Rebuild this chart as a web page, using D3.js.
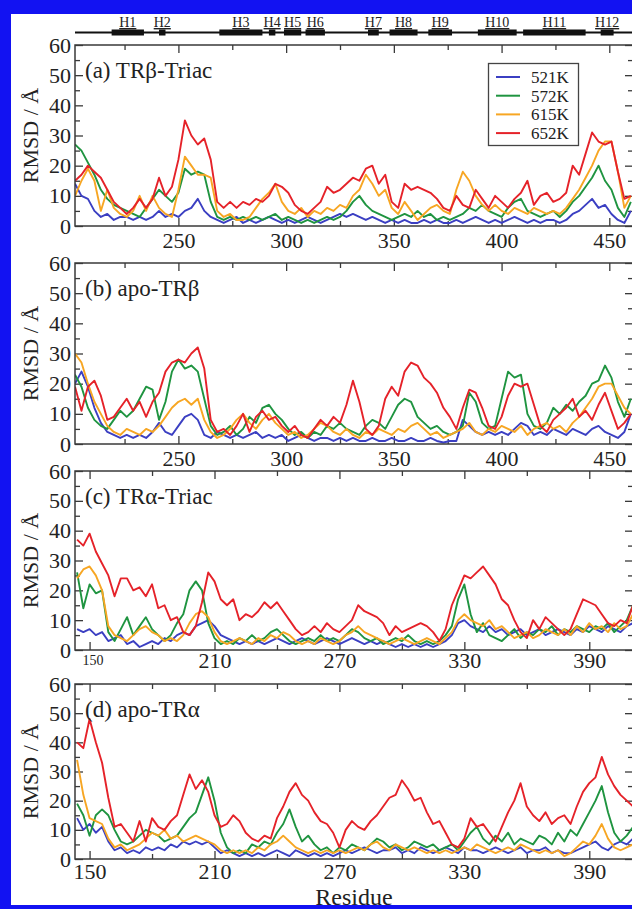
<!DOCTYPE html>
<html>
<head>
<meta charset="utf-8">
<script src="https://cdn.jsdelivr.net/npm/d3@7"></script>
<style>
    body { margin: 0; background: #fff; }
    svg { display: block; font-family: "Liberation Serif", "DejaVu Serif", serif; }
</style>
</head>
<body>
<svg id="chart" width="632" height="909"></svg>
<script>
/** data */
var temps = ['521K', '572K', '615K', '652K'];
var tempColors = ['#3b3fc2', '#1f9440', '#f7a623', '#e52229'];

var resTRb = d3.range(202, 461, 3);
var resTRa = d3.range(144, 412, 3);

var blueA = [14,10,9,5,3,4,2,3,3,2, 3,2,3,5,3,4,3,5,6,9, 5,3,2,1,2,3,1,2,1,2, 3,2,1,2,1,2,3,2,1,2,
    3,4,3,4,3,2,3,2,1,2, 1,2,1,1,2,1,2,1,1,2, 1,2,3,2,1,2,1,2,3,2, 1,2,1,2,2,1,2,4,5,7, 9,6,7,4,2,1,5];
var greenA = [27,25,21,17,12,9,7,6,5,4, 3,6,9,12,10,8,11,19,17,18, 17,8,3,2,3,2,3,2,3,2, 3,4,2,3,2,1,2,1,2,3,
    2,3,5,8,10,7,5,4,3,2, 3,4,3,5,3,4,2,3,2,3, 4,6,5,7,5,4,3,6,8,9, 5,4,3,4,5,3,5,8,10,13, 16,20,15,12,6,3,8];
var orangeA = [10,15,19,15,5,12,6,4,3,5, 10,5,10,6,4,3,12,23,20,17, 17,16,5,3,4,2,2,3,6,9, 11,14,8,5,4,6,3,5,4,6,
    5,7,6,10,12,17,14,10,12,6, 4,8,5,2,4,6,7,5,4,12, 18,15,10,7,5,7,5,4,6,5, 4,6,5,4,5,4,6,9,12,16, 20,25,28,28,18,6,10];
var redA = [15,17,20,18,16,12,8,6,4,6, 9,6,9,16,10,13,22,35,30,27, 29,22,8,6,8,6,8,7,9,8, 10,14,13,11,7,5,4,6,8,13,
    11,12,14,16,15,19,20,14,17,8, 6,14,12,13,12,11,9,6,5,10, 7,6,12,9,6,10,8,6,9,11, 15,7,10,11,8,9,11,20,17,24, 31,28,27,28,18,9,10];

var blueB = [20,24,19,12,7,4,3,2,3,2, 3,2,4,7,4,3,6,9,10,8, 3,2,4,3,2,3,2,3,4,2, 3,2,3,1,2,3,2,1,2,2,
    1,2,1,2,1,1,2,1,1,2, 1,1,2,1,1,2,1,0.5,1,1, 8,6,4,3,4,3,4,3,5,7, 6,3,4,3,5,4,3,5,4,3, 5,6,4,3,2,4,10];
var greenB = [23,19,12,8,6,5,8,11,9,11, 15,19,18,8,14,24,28,25,26,24, 15,6,3,4,6,3,5,9,7,12, 13,10,8,5,3,4,2,4,3,6,
    5,7,5,4,3,6,8,7,5,9, 13,15,14,9,7,5,6,4,3,4, 6,17,14,7,5,6,15,24,22,23, 10,6,5,7,12,10,13,11,14,16, 20,21,26,22,14,9,15];
var orangeB = [30,27,20,14,10,6,4,3,5,4, 3,5,4,6,9,12,14,15,13,15, 8,4,2,3,5,8,10,7,5,8, 10,7,5,3,4,2,3,5,7,6,
    4,3,5,3,2,4,3,5,4,3, 5,4,6,7,5,3,4,2,3,4, 5,7,4,3,5,4,6,5,4,6, 3,5,6,7,5,6,4,7,9,12, 15,19,20,20,16,12,10];
var redB = [19,11,19,21,16,8,9,12,15,11, 14,9,14,17,24,27,28,27,30,32, 25,8,4,5,3,6,10,4,9,11, 8,9,6,4,6,3,2,5,8,6,
    9,7,13,21,14,5,3,6,15,19, 16,24,27,26,22,20,17,12,9,5, 12,18,17,12,6,5,9,16,20,19, 20,13,6,4,8,10,12,15,9,11, 8,13,17,11,5,7,10];

var blueC = [7,6,7,5,6,3,4,5,2,3, 1,2,3,2,4,3,5,6,5,8, 9,10,8,5,4,3,2,3,2,3, 2,3,4,3,2,3,4,3,2,3,
    4,3,2,3,4,3,2,3,2,3, 2,1,2,1,2,1,2,1,2,3, 5,9,10,8,7,6,8,6,7,5, 6,7,5,6,7,5,6,7,6,5, 7,6,8,7,6,8,7,6,8,9];
var greenC = [26,14,22,19,20,6,3,7,11,5, 8,11,7,5,3,5,9,12,20,23, 20,9,4,2,3,2,4,3,5,3, 4,6,7,5,3,2,3,4,3,5,
    3,4,3,5,7,6,4,3,4,2, 3,4,3,5,3,2,3,2,3,5, 8,17,22,12,6,9,5,4,3,5, 7,4,6,5,7,6,8,5,7,6, 8,7,6,8,7,9,6,8,10,15];
var orangeC = [24,27,28,25,20,8,5,4,3,5, 7,8,6,5,3,4,3,5,9,12, 13,11,6,3,2,3,4,3,2,4, 3,5,4,6,5,3,2,3,2,4,
    3,2,3,5,6,8,6,5,4,3, 2,3,4,3,2,3,4,3,2,4, 6,10,12,10,9,8,10,7,8,6, 4,5,6,4,5,7,6,5,7,5, 8,6,9,7,8,6,9,7,8,12];
var redC = [37,35,39,33,29,25,18,24,24,20, 21,18,22,14,15,10,11,6,5,8, 16,26,23,17,15,17,10,12,11,13, 16,14,16,13,10,7,5,6,8,6,
    9,7,6,8,10,15,13,12,11,9, 5,8,6,7,8,9,8,6,3,7, 15,20,25,24,26,28,25,22,17,15, 10,6,4,10,7,11,9,7,5,7, 12,17,16,15,12,9,8,10,9,15];

var blueD = [14,10,12,9,11,6,3,4,2,3, 2,4,3,4,3,5,4,6,5,6, 5,6,4,2,3,2,1,2,1,2, 1,2,3,2,1,3,2,1,2,1,
    2,1,2,3,2,3,4,3,2,3, 3,4,2,3,2,4,3,2,3,4, 3,2,4,3,3,2,3,4,3,2, 3,4,2,3,3,4,2,3,2,2, 3,4,5,6,4,3,5,6,5,7];
var greenD = [19,15,8,15,17,15,10,6,5,6, 8,10,9,8,6,7,8,11,14,16, 22,28,20,9,4,2,3,2,5,4, 6,5,9,12,17,11,6,8,5,3,
    4,2,4,3,5,4,3,5,7,6, 4,5,3,4,6,5,4,5,3,4, 5,3,6,9,11,7,5,8,6,9, 5,7,6,5,8,7,5,9,6,10, 8,12,16,20,25,16,9,6,8,11];
var orangeD = [34,22,14,13,12,7,4,5,3,4, 5,7,9,8,10,7,8,6,7,8, 7,6,5,3,2,3,2,3,2,4, 3,5,6,8,6,4,3,2,3,2,
    3,2,3,2,3,4,3,5,6,4, 3,5,4,3,4,3,2,3,2,3, 2,3,4,3,5,4,3,2,3,4, 3,5,4,3,2,3,2,3,1,2, 4,6,5,8,12,7,4,3,4,5];
var redD = [40,38,48,40,33,21,11,12,9,6, 13,6,14,11,10,13,15,22,29,24, 27,23,15,11,12,15,13,9,7,6, 8,7,14,18,23,26,22,20,16,13,
    12,9,4,10,13,11,10,13,15,18, 21,22,27,24,20,21,16,12,13,9, 5,4,7,14,11,12,9,6,11,16, 20,26,18,15,13,16,12,14,15,12, 18,23,26,28,35,29,25,22,20,18];

var helixNames = ['H1', 'H2', 'H3', 'H4', 'H5', 'H6', 'H7', 'H8', 'H9', 'H10', 'H11', 'H12'];
var helixStart = [219, 241, 269, 292, 299, 309, 338, 348, 366, 389, 410, 446];
var helixEnd = [234, 244, 289, 295, 307, 318, 343, 361, 377, 407, 439, 452];

var yMajor = [0, 10, 20, 30, 40, 50, 60];
var yMinor = [5, 15, 25, 35, 45, 55];
var xMajorTRb = [250, 300, 350, 400, 450];
var xMinorTRb = [225, 275, 325, 375, 425];
var xMajorTRa = [150, 210, 270, 330, 390];
var xMinorTRa = [180, 240, 300, 360];

/** layout */
var plotLeft = 75;
var plotRight = 633;
var textColor = '#222';
var frameColor = '#3a3a3a';
var borderBlue = '#1212f2';

var panels = [
    { title: '(a) TRβ-Triac', res: resTRb, series: [blueA, greenA, orangeA, redA], top: 45, bottom: 226,
      domain: [202, 461], major: xMajorTRb, minor: xMinorTRb, labelPad: 6, legend: true },
    { title: '(b) apo-TRβ', res: resTRb, series: [blueB, greenB, orangeB, redB], top: 263, bottom: 444,
      domain: [202, 461], major: xMajorTRb, minor: xMinorTRb, labelPad: 6 },
    { title: '(c) TRα-Triac', res: resTRa, series: [blueC, greenC, orangeC, redC], top: 471, bottom: 650,
      domain: [143, 411], major: xMajorTRa, minor: xMinorTRa, labelPad: 2, smallFirst: true },
    { title: '(d) apo-TRα', res: resTRa, series: [blueD, greenD, orangeD, redD], top: 684, bottom: 859,
      domain: [143, 411], major: xMajorTRa, minor: xMinorTRa, labelPad: 4 }
];

var svg = d3.select('#chart');

function drawBorder() {
    svg.append('rect').attr('x', 0).attr('y', 0).attr('width', 632).attr('height', 14).attr('fill', borderBlue);
    svg.append('rect').attr('x', 0).attr('y', 0).attr('width', 11).attr('height', 909).attr('fill', borderBlue);
    svg.append('rect').attr('x', 0).attr('y', 905).attr('width', 632).attr('height', 4).attr('fill', borderBlue);
}

function drawHelices() {
    var x = d3.scaleLinear().domain(panels[0].domain).range([plotLeft, plotRight]);
    var g = svg.append('g');
    g.append('line')
        .attr('x1', plotLeft).attr('x2', 632)
        .attr('y1', 32.5).attr('y2', 32.5)
        .attr('stroke', '#111').attr('stroke-width', 2);
    g.selectAll('rect.helix').data(helixNames).enter().append('rect')
        .attr('class', 'helix')
        .attr('x', (d, i) => x(helixStart[i]))
        .attr('width', (d, i) => x(helixEnd[i]) - x(helixStart[i]))
        .attr('y', 29.5).attr('height', 6)
        .attr('fill', '#111');
    g.selectAll('text.helix').data(helixNames).enter().append('text')
        .attr('class', 'helix')
        .attr('x', (d, i) => (x(helixStart[i]) + x(helixEnd[i])) / 2)
        .attr('y', 27)
        .attr('text-anchor', 'middle')
        .style('font-size', '14px')
        .style('text-decoration', 'underline')
        .attr('fill', textColor)
        .text(d => d);
}

function styleAxis(g, size) {
    g.select('.domain').remove();
    g.selectAll('line').attr('stroke', frameColor).attr('stroke-width', 1.3);
    g.selectAll('text').attr('fill', textColor).style('font-size', size + 'px')
        .style('font-family', '"Liberation Serif", serif');
}

function drawPanel(p, idx) {
    var x = d3.scaleLinear().domain(p.domain).range([plotLeft, plotRight]);
    var y = d3.scaleLinear().domain([0, 60]).range([p.bottom, p.top]);
    var g = svg.append('g');

    var clipId = 'clip' + idx;
    g.append('clipPath').attr('id', clipId).append('rect')
        .attr('x', plotLeft).attr('y', p.top)
        .attr('width', plotRight - plotLeft).attr('height', p.bottom - p.top);

    //minor ticks
    g.append('g').attr('transform', 'translate(' + plotLeft + ',0)')
        .call(d3.axisLeft(y).tickValues(yMinor).tickSize(-5).tickFormat(''))
        .call(a => styleAxis(a, 22));
    g.append('g').attr('transform', 'translate(' + plotRight + ',0)')
        .call(d3.axisRight(y).tickValues(yMinor).tickSize(-5).tickFormat(''))
        .call(a => styleAxis(a, 22));
    g.append('g').attr('transform', 'translate(0,' + p.top + ')')
        .call(d3.axisTop(x).tickValues(p.minor).tickSize(-5).tickFormat(''))
        .call(a => styleAxis(a, 22));
    g.append('g').attr('transform', 'translate(0,' + p.bottom + ')')
        .call(d3.axisBottom(x).tickValues(p.minor).tickSize(-5).tickFormat(''))
        .call(a => styleAxis(a, 22));

    //major ticks
    g.append('g').attr('transform', 'translate(' + plotLeft + ',0)')
        .call(d3.axisLeft(y).tickValues(yMajor).tickSize(-8).tickPadding(4))
        .call(a => styleAxis(a, 22));
    g.append('g').attr('transform', 'translate(' + plotRight + ',0)')
        .call(d3.axisRight(y).tickValues(yMajor).tickSize(-8).tickFormat(''))
        .call(a => styleAxis(a, 22));
    g.append('g').attr('transform', 'translate(0,' + p.top + ')')
        .call(d3.axisTop(x).tickValues(p.major).tickSize(-8).tickFormat(''))
        .call(a => styleAxis(a, 22));
    var xAxis = g.append('g').attr('transform', 'translate(0,' + p.bottom + ')')
        .call(d3.axisBottom(x).tickValues(p.major).tickSize(-8).tickPadding(p.labelPad))
        .call(a => styleAxis(a, 22));
    if (p.smallFirst) {
        xAxis.selectAll('text').filter(d => d === p.major[0])
            .style('font-size', '14px').attr('x', 3).attr('dy', '0.9em');
    }

    //series
    var line = d3.line()
        .x((d, i) => x(p.res[i]))
        .y(d => y(d));
    g.append('g').attr('clip-path', 'url(#' + clipId + ')')
        .selectAll('path').data(p.series).enter().append('path')
        .attr('d', d => line(d))
        .attr('fill', 'none')
        .attr('stroke', (d, i) => tempColors[i])
        .attr('stroke-width', 1.9)
        .attr('stroke-linejoin', 'round');

    //frame
    g.append('rect')
        .attr('x', plotLeft).attr('y', p.top)
        .attr('width', plotRight - plotLeft).attr('height', p.bottom - p.top)
        .attr('fill', 'none').attr('stroke', frameColor).attr('stroke-width', 1.5);

    g.append('text')
        .attr('x', 85).attr('y', p.top + 33)
        .attr('fill', textColor)
        .style('font-size', '23px')
        .text(p.title);

    g.append('text')
        .attr('transform', 'translate(38,' + ((p.top + p.bottom) / 2) + ') rotate(-90)')
        .attr('text-anchor', 'middle')
        .attr('fill', textColor)
        .style('font-size', '22px')
        .text('RMSD / Å');

    if (p.legend) {
        drawLegend(g);
    }
}

function drawLegend(g) {
    var lg = g.append('g');
    lg.append('rect')
        .attr('x', 488.5).attr('y', 63.5).attr('width', 90).attr('height', 82)
        .attr('fill', '#fff').attr('stroke', '#444').attr('stroke-width', 1.3);
    var rows = lg.selectAll('g.row').data(temps).enter().append('g')
        .attr('class', 'row')
        .attr('transform', (d, i) => 'translate(0,' + (77 + i * 18.7) + ')');
    rows.append('line')
        .attr('x1', 496).attr('x2', 520)
        .attr('stroke', (d, i) => tempColors[i]).attr('stroke-width', 2);
    rows.append('text')
        .attr('x', 531).attr('dy', '0.35em')
        .attr('fill', textColor)
        .style('font-size', '17px')
        .text(d => d);
}

drawBorder();
drawHelices();
panels.forEach(drawPanel);

svg.append('text')
    .attr('x', 354).attr('y', 905)
    .attr('text-anchor', 'middle')
    .attr('fill', textColor)
    .style('font-size', '24px')
    .text('Residue');
</script>
</body>
</html>
